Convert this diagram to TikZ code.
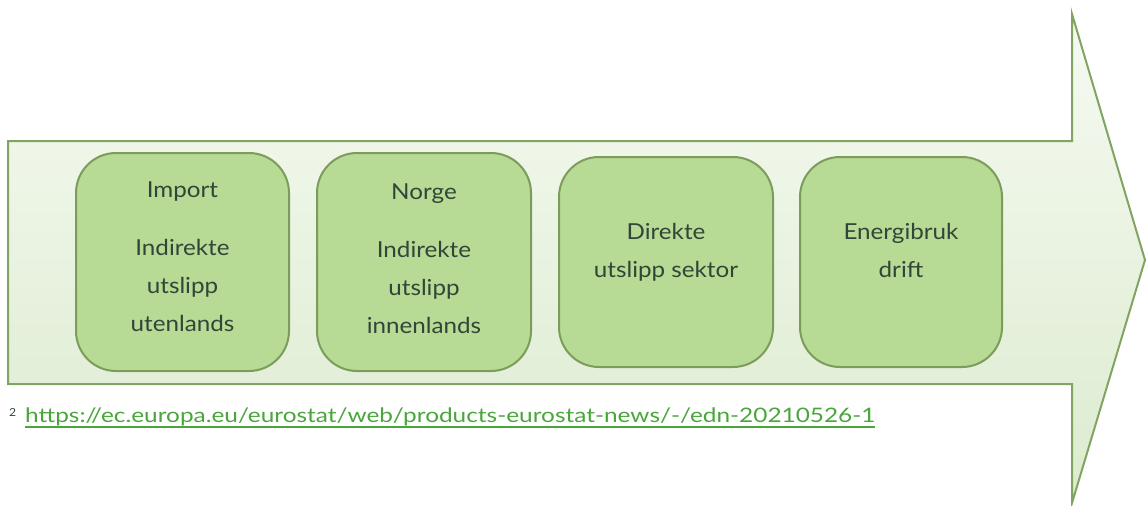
\documentclass[tikz,border=0pt]{standalone}
\usepackage{fontspec}
\setmainfont{Lato}[FakeStretch=1.1]
\newfontfamily\urlfont{Lato}[FakeStretch=1.2]
\definecolor{arrowtop}{RGB}{246,250,242}
\definecolor{arrowbot}{RGB}{220,235,207}
\definecolor{arrowline}{RGB}{130,164,98}
\definecolor{boxfill}{RGB}{183,218,148}
\definecolor{boxline}{RGB}{124,156,92}
\definecolor{txt}{RGB}{48,70,56}
\definecolor{link}{RGB}{72,166,58}
\tikzset{
  stepbox/.style={draw=boxline, fill=boxfill, line width=2pt, rounded corners=40pt, inner sep=0pt},
  lbl/.style={text=txt, align=center, anchor=north, inner sep=0pt, font=\fontsize{22}{38}\selectfont},
}
\begin{document}
\begin{tikzpicture}[x=1pt,y=-1pt]
\useasboundingbox (0,0) rectangle (1146,506);
\shadedraw[top color=arrowtop, bottom color=arrowbot, draw=arrowline, line width=2pt]
  (8,141) -- (1072,141) -- (1072,14) -- (1145,260) -- (1072,503) -- (1072,384) -- (8,384) -- cycle;
\node[stepbox, minimum width=213pt, minimum height=218pt] (b1) at (182.5,262) {};
\node[stepbox, minimum width=214pt, minimum height=218pt] (b2) at (424,262) {};
\node[stepbox, minimum width=214pt, minimum height=210pt] (b3) at (666,262) {};
\node[stepbox, minimum width=202pt, minimum height=210pt] (b4) at (901,262) {};
\node[lbl] (t1) at (182.5,182) {Import\\[20pt]Indirekte\\utslipp\\utenlands};
\node[lbl] (t2) at (424,184) {Norge\\[20pt]Indirekte\\utslipp\\innenlands};
\node[lbl] (t3) at (666,223) {Direkte\\utslipp sektor};
\node[lbl] (t4) at (901,223) {Energibruk\\drift};
\node[anchor=base west, inner sep=0pt, text=txt, font=\fontsize{11}{12}\selectfont] (sup) at (9,416) {2};
\node[anchor=base west, inner sep=0pt, text=link, font=\urlfont\fontsize{20}{24}\selectfont] (url) at (25,422)
  {\resizebox{850pt}{\height}{https://ec.europa.eu/eurostat/web/products-eurostat-news/-/edn-20210526-1}};
\draw[link, line width=1.8pt] ([yshift=-5pt]url.base west) -- ([yshift=-5pt]url.base east);
\end{tikzpicture}
\end{document}
